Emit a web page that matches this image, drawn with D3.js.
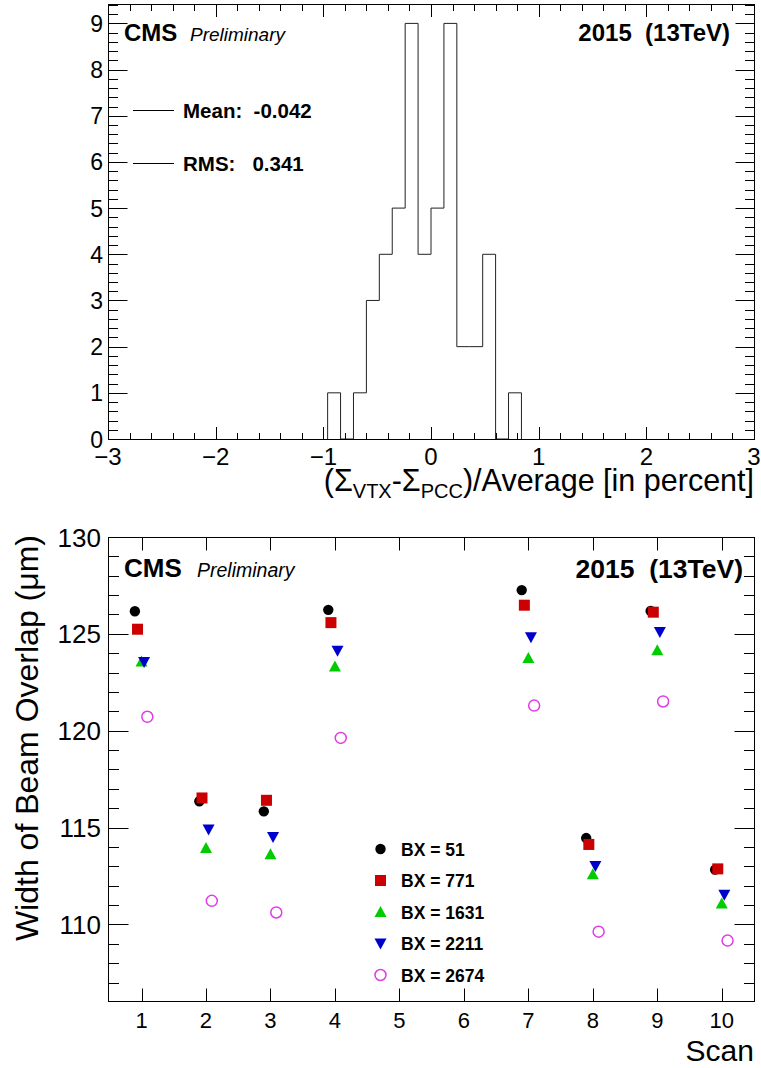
<!DOCTYPE html>
<html><head><meta charset="utf-8">
<script src="https://cdn.jsdelivr.net/npm/d3@7"></script>
<style>
body{margin:0;background:#fff}
svg{display:block}
text{font-family:"Liberation Sans",Arial,Helvetica,sans-serif;fill:#000;white-space:pre}
</style>
</head><body>
<svg id="c" width="761" height="1068"></svg>
<script>
// ---------- Top panel: histogram ----------
const histBinLowEdges = [-0.96,-0.84,-0.72,-0.60,-0.48,-0.36,-0.24,-0.12,0.00,0.12,0.24,0.36,0.48,0.60,0.72];
const histCounts      = [1,0,1,3,4,5,9,4,5,9,2,2,4,0,1];
const histBinWidth = 0.12;
const histXTicks = [-3,-2,-1,0,1,2,3];
const histYTicks = [0,1,2,3,4,5,6,7,8,9];
const histStats = ["Mean:  -0.042", "RMS:   0.341"];

// ---------- Bottom panel: beam overlap width per scan ----------
const scans = [1,2,3,4,7,8,9,10];
const bxLabels = ["BX = 51","BX = 771","BX = 1631","BX = 2211","BX = 2674"];
const bx51   = [126.17,116.36,115.84,126.24,127.26,114.46,126.18,112.83];
const bx771  = [125.24,116.53,116.41,125.58,126.48,114.13,126.12,112.87];
const bx1631 = [123.58,113.95,113.62,123.32,123.75,112.59,124.15,111.08];
const bx2211 = [123.55,114.90,114.51,124.13,124.83,113.02,125.09,111.53];
const bx2674 = [120.72,111.22,110.62,119.63,121.30,109.63,121.51,109.17];
const scanTicks = [1,2,3,4,5,6,7,8,9,10];
const widthMajorTicks = [110,115,120,125,130];

const svg = d3.select("#c");
const fmt = d3.format("d");

function drawTicks(g, scale, vals, orient, pos, len){
  g.selectAll(null).data(vals).enter().append("line")
    .attr("stroke","#000").attr("stroke-width",1)
    .each(function(v){
      const s=d3.select(this);
      if(orient==="h"){ const x=Math.round(scale(v))+0.5; s.attr("x1",x).attr("x2",x).attr("y1",pos).attr("y2",pos+len); }
      else { const y=Math.round(scale(v))+0.5; s.attr("y1",y).attr("y2",y).attr("x1",pos).attr("x2",pos+len); }
    });
}
function frame(L,R,T,B){
  svg.append("rect").attr("x",L+0.5).attr("y",T+0.5).attr("width",R-L).attr("height",B-T)
    .attr("fill","none").attr("stroke","#000").attr("stroke-width",1);
}

// ===== Top panel =====
{
  const L=108,R=754,T=4,B=439;
  const x=d3.scaleLinear().domain([-3,3]).range([L,R]);
  const y=d3.scaleLinear().domain([0,9.42]).range([B,T]);
  const g=svg.append("g");
  const minorX=d3.range(-3,3.0001,0.2).map(v=>+v.toFixed(2)).filter(v=>!histXTicks.includes(v));
  const minorY=d3.range(0,9.42,0.2).map(v=>+v.toFixed(2)).filter(v=>!histYTicks.includes(v));
  drawTicks(g,x,histXTicks,"h",B+0.5,-12.5);
  drawTicks(g,x,minorX,"h",B+0.5,-6.5);
  drawTicks(g,x,histXTicks,"h",T+0.5,12.5);
  drawTicks(g,x,minorX,"h",T+0.5,6.5);
  drawTicks(g,y,histYTicks,"v",L+0.5,19);
  drawTicks(g,y,minorY,"v",L+0.5,9.5);
  drawTicks(g,y,histYTicks,"v",R+0.5,-19);
  drawTicks(g,y,minorY,"v",R+0.5,-9.5);
  frame(L,R,T,B);

  // histogram outline
  const pts=[[histBinLowEdges[0],0]];
  histBinLowEdges.forEach((e,i)=>pts.push([e,histCounts[i]]));
  pts.push([histBinLowEdges[histBinLowEdges.length-1]+histBinWidth,0]);
  const line=d3.line().x(d=>x(d[0])).y(d=>y(d[1])).curve(d3.curveStepAfter);
  g.append("path").attr("d",line(pts)).attr("fill","none").attr("stroke","#222").attr("stroke-width",1);

  // labels
  g.selectAll(null).data(histXTicks).enter().append("text")
    .attr("x",d=>x(d)).attr("y",465).attr("text-anchor","middle").attr("font-size",24).text(fmt);
  g.selectAll(null).data(histYTicks).enter().append("text")
    .attr("x",L-5).attr("y",d=>y(d)+8.5).attr("text-anchor","end").attr("font-size",23).text(fmt);

  // x title
  const t=g.append("text").attr("x",R).attr("y",491).attr("text-anchor","end").attr("font-size",30.5);
  t.append("tspan").text("(\u03A3");
  t.append("tspan").attr("font-size",20).attr("dy",7).text("VTX");
  t.append("tspan").attr("dy",-7).text("-\u03A3");
  t.append("tspan").attr("font-size",20).attr("dy",7).text("PCC");
  t.append("tspan").attr("dy",-7).text(")/Average [in percent]");

  // CMS labels
  g.append("text").attr("x",124).attr("y",41).attr("font-size",24).attr("font-weight","bold").text("CMS");
  g.append("text").attr("x",190).attr("y",41).attr("font-size",19).attr("font-style","italic").text("Preliminary");
  g.append("text").attr("x",730).attr("y",41).attr("font-size",24).attr("font-weight","bold").attr("text-anchor","end").text("2015  (13TeV)");

  // stats legend
  const sy=[110.5,163.5];
  histStats.forEach((s,i)=>{
    g.append("line").attr("x1",133).attr("x2",174).attr("y1",sy[i]).attr("y2",sy[i]).attr("stroke","#000");
    g.append("text").attr("x",183).attr("y",sy[i]+7.5).attr("font-size",20.5).attr("font-weight","bold").text(s);
  });
}

// ===== Bottom panel =====
{
  const L=108,R=754,T=537,B=1001;
  const x=d3.scaleLinear().domain([0.48,10.5]).range([L,R]);
  const y=d3.scaleLinear().domain([106.05,130]).range([B,T]);
  const g=svg.append("g");
  const minorY=d3.range(107,130,1).filter(v=>!widthMajorTicks.includes(v));
  drawTicks(g,x,scanTicks,"h",B+0.5,-13);
  drawTicks(g,x,scanTicks,"h",T+0.5,13);
  drawTicks(g,y,widthMajorTicks,"v",L+0.5,20);
  drawTicks(g,y,minorY,"v",L+0.5,10.5);
  drawTicks(g,y,widthMajorTicks,"v",R+0.5,-20);
  drawTicks(g,y,minorY,"v",R+0.5,-10.5);
  frame(L,R,T,B);

  g.selectAll(null).data(scanTicks).enter().append("text")
    .attr("x",d=>x(d)).attr("y",1028).attr("text-anchor","middle").attr("font-size",22).text(fmt);
  g.selectAll(null).data(widthMajorTicks).enter().append("text")
    .attr("x",L-7).attr("y",d=>y(d)+9.5).attr("text-anchor","end").attr("font-size",26).text(fmt);

  g.append("text").attr("x",R).attr("y",1061).attr("text-anchor","end").attr("font-size",30).text("Scan");
  g.append("text").attr("transform","translate(38,535) rotate(-90)").attr("text-anchor","end")
    .attr("font-size",32).text("Width of Beam Overlap (\u03BCm)");

  g.append("text").attr("x",124).attr("y",577).attr("font-size",26).attr("font-weight","bold").text("CMS");
  g.append("text").attr("x",197).attr("y",577).attr("font-size",19.5).attr("font-style","italic").text("Preliminary");
  g.append("text").attr("x",743).attr("y",578).attr("font-size",26.5).attr("font-weight","bold").attr("text-anchor","end").text("2015  (13TeV)");

  const series=[
    {vals:bx51,  color:"#000000", shape:"circle", off:-0.103},
    {vals:bx771, color:"#cc0000", shape:"square", off:-0.062},
    {vals:bx1631,color:"#00cc00", shape:"up",     off:0},
    {vals:bx2211,color:"#0000cc", shape:"down",   off:0.04},
    {vals:bx2674,color:"#e03ce6", shape:"open",   off:0.09},
  ];
  function marker(sel, shape, color){
    if(shape==="circle") sel.append("circle").attr("r",5.2).attr("fill",color);
    else if(shape==="square") sel.append("rect").attr("x",-5.5).attr("y",-5.5).attr("width",11).attr("height",11).attr("fill",color);
    else if(shape==="up") sel.append("path").attr("d","M-6,5L6,5L0,-6Z").attr("fill",color);
    else if(shape==="down") sel.append("path").attr("d","M-6,-5L6,-5L0,6Z").attr("fill",color);
    else sel.append("circle").attr("r",5.5).attr("fill","none").attr("stroke",color).attr("stroke-width",1.5);
  }
  series.forEach(s=>{
    s.vals.forEach((v,i)=>{
      const m=g.append("g").attr("transform",`translate(${x(scans[i]+s.off)},${y(v)})`);
      marker(m,s.shape,s.color);
    });
  });

  // legend
  series.forEach((s,i)=>{
    const cy=849+i*31.5;
    const m=g.append("g").attr("transform",`translate(380.5,${cy})`);
    marker(m,s.shape,s.color);
    g.append("text").attr("x",401).attr("y",cy+6.5).attr("font-size",17.5).attr("font-weight","bold").text(bxLabels[i]);
  });
}
</script>
</body></html>
